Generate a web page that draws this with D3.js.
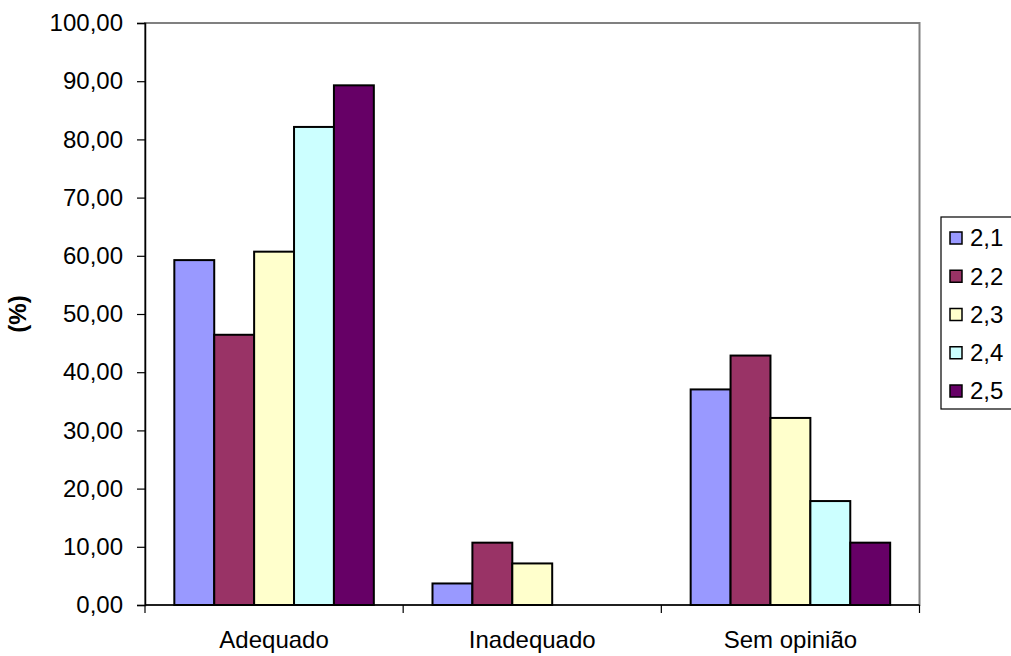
<!DOCTYPE html>
<html><head><meta charset="utf-8">
<script src="https://cdn.jsdelivr.net/npm/d3@7/dist/d3.min.js"></script>
<style>body{margin:0;background:#fff}svg{display:block}</style>
</head><body>
<svg id="c" width="1011" height="656"></svg>
<script>
const categories = ["Adequado", "Inadequado", "Sem opinião"];
const seriesNames = ["2,1", "2,2", "2,3", "2,4", "2,5"];
const s21 = [59.26, 3.70, 37.04];
const s22 = [46.43, 10.71, 42.86];
const s23 = [60.71, 7.14, 32.14];
const s24 = [82.14, 0.00, 17.86];
const s25 = [89.29, 0.00, 10.71];
const seriesValues = [s21, s22, s23, s24, s25];
const colors = ["#9999FF", "#993366", "#FFFFCC", "#CCFFFF", "#660066"];
const yTicks = [0,10,20,30,40,50,60,70,80,90,100];
const yLabel = "(%)";

const svg = d3.select("#c");
const font = "'Liberation Sans', Arial, sans-serif";
const L = 145, R = 919.5, T = 23, B = 605;

const x0 = d3.scaleBand().domain(categories).range([L, R]).paddingInner(0).paddingOuter(0);
const x1 = d3.scaleBand().domain(seriesNames).range([0, x0.bandwidth()]).paddingInner(0).paddingOuter(0.75*0.98);
const y = d3.scaleLinear().domain([0, 100]).range([B, T]);

// plot border
svg.append("rect").attr("x", L).attr("y", T).attr("width", R - L).attr("height", B - T)
  .attr("fill", "#fff").attr("stroke", "#808080").attr("stroke-width", 2);

// bars
const data = [];
categories.forEach((c, ci) => seriesNames.forEach((s, si) => data.push({c, s, si, v: seriesValues[si][ci]})));
svg.append("g").selectAll("rect").data(data.filter(d => d.v > 0)).join("rect")
  .attr("x", d => x0(d.c) + x1(d.s))
  .attr("y", d => y(d.v))
  .attr("width", x1.bandwidth())
  .attr("height", d => y(0) - y(d.v))
  .attr("fill", d => colors[d.si])
  .attr("stroke", "#000").attr("stroke-width", 2);

// y axis
const fmt = v => d3.format(".2f")(v).replace(".", ",");
const ya = svg.append("g").attr("transform", `translate(${L},0)`)
  .call(d3.axisLeft(y).tickValues(yTicks).tickFormat(fmt).tickSize(8).tickPadding(14));
ya.select(".domain").attr("stroke", "#000").attr("stroke-width", 1.5);
ya.selectAll(".tick line").attr("stroke", "#000").attr("stroke-width", 1.2);
ya.selectAll("text").attr("font-family", font).attr("font-size", 24).attr("fill", "#000");

// x axis
const xa = svg.append("g").attr("transform", `translate(0,${B})`);
xa.append("line").attr("x1", L).attr("x2", R).attr("y1", 0).attr("y2", 0).attr("stroke", "#000").attr("stroke-width", 1.5);
const bounds = categories.map(c => x0(c)).concat([x0(categories[categories.length-1]) + x0.bandwidth()]);
xa.selectAll("line.t").data(bounds).join("line").attr("class", "t")
  .attr("x1", d => d).attr("x2", d => d).attr("y1", 0).attr("y2", 8).attr("stroke", "#000").attr("stroke-width", 1.2);
xa.selectAll("text").data(categories).join("text")
  .attr("x", d => x0(d) + x0.bandwidth()/2).attr("y", 43)
  .attr("text-anchor", "middle").attr("font-family", font).attr("font-size", 24).attr("fill", "#000")
  .text(d => d);

// y label
svg.append("text").attr("transform", "translate(26,314) rotate(-90)")
  .attr("text-anchor", "middle").attr("font-family", font).attr("font-size", 24).attr("font-weight", "bold")
  .text(yLabel);

// legend
const lg = svg.append("g");
lg.append("rect").attr("x", 941).attr("y", 217).attr("width", 75).attr("height", 192)
  .attr("fill", "#fff").attr("stroke", "#000").attr("stroke-width", 1.2);
const ly = d3.scalePoint().domain(seriesNames).range([238, 391]);
seriesNames.forEach((s, i) => {
  lg.append("rect").attr("x", 950).attr("y", ly(s) - 6).attr("width", 12).attr("height", 12)
    .attr("fill", colors[i]).attr("stroke", "#000").attr("stroke-width", 1.5);
  lg.append("text").attr("x", 970).attr("y", ly(s)).attr("dy", "0.35em")
    .attr("font-family", font).attr("font-size", 24).text(s);
});
</script>
</body></html>
